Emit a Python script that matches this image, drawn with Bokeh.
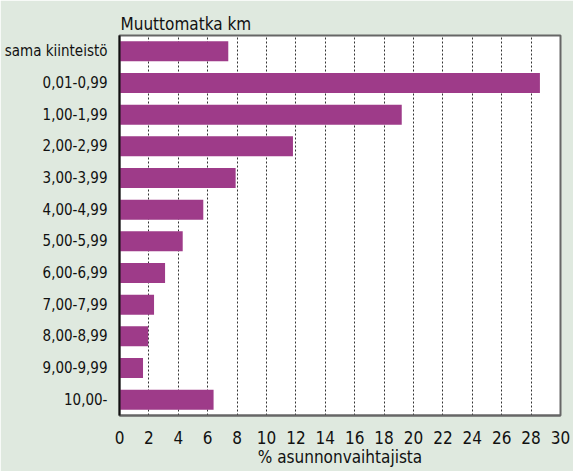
from bokeh.plotting import figure
from bokeh.models import FactorRange, Range1d, FixedTicker
from bokeh.embed import file_html
from bokeh.resources import INLINE

categories = ["sama kiinteistö", "0,01-0,99", "1,00-1,99", "2,00-2,99", "3,00-3,99",
              "4,00-4,99", "5,00-5,99", "6,00-6,99", "7,00-7,99", "8,00-8,99",
              "9,00-9,99", "10,00-"]
values = [7.4, 28.6, 19.2, 11.8, 7.9, 5.7, 4.3, 3.1, 2.35, 1.95, 1.6, 6.4]
x_ticks = list(range(0, 31, 2))

FONT = "DejaVu Sans Condensed"
BG = "#dfe9df"

p = figure(width=573, height=471, output_backend="svg", toolbar_location=None,
           y_range=FactorRange(*reversed(categories), range_padding=0),
           x_range=Range1d(0, 30),
           min_border_left=119, min_border_right=13, min_border_top=35, min_border_bottom=56,
           background_fill_color="white", border_fill_color=BG)

p.hbar(y=categories, right=values, left=0, height=0.63, color="#9e3b89", line_color=None)

p.title.text = "Muuttomatka km"
p.title.text_font = FONT
p.title.text_font_size = "17px"
p.title.text_font_style = "normal"
p.title.text_color = "#111111"
p.title.align = "left"
p.title.offset = 1
p.title.standoff = 3

p.xaxis.ticker = FixedTicker(ticks=x_ticks)
p.xaxis.axis_label = "% asunnonvaihtajista"
p.xaxis.axis_label_text_font = FONT
p.xaxis.axis_label_text_font_size = "17px"
p.xaxis.axis_label_text_font_style = "normal"
p.xaxis.axis_label_text_color = "#111111"
p.xaxis.axis_label_standoff = 0
p.xaxis.major_label_text_font = FONT
p.xaxis.major_label_text_font_size = "17px"
p.xaxis.major_label_text_color = "#111111"
p.xaxis.major_label_standoff = 9
p.xaxis.major_tick_line_color = None
p.xaxis.minor_tick_line_color = None
p.xaxis.axis_line_color = "#666666"
p.xaxis.axis_line_width = 2

p.yaxis.major_label_text_font = FONT
p.yaxis.major_label_text_font_size = "15px"
p.yaxis.major_label_text_color = "#111111"
p.yaxis.major_label_standoff = 6
p.yaxis.major_tick_line_color = None
p.yaxis.minor_tick_line_color = None
p.yaxis.axis_line_color = "#111111"
p.yaxis.axis_line_width = 2

p.ygrid.grid_line_color = None
p.xgrid.grid_line_color = "#333333"
p.xgrid.grid_line_dash = "2 2"
p.xgrid.grid_line_width = 1

p.outline_line_color = "#666666"
p.outline_line_width = 2

open("out.html", "w").write(file_html(p, INLINE))
